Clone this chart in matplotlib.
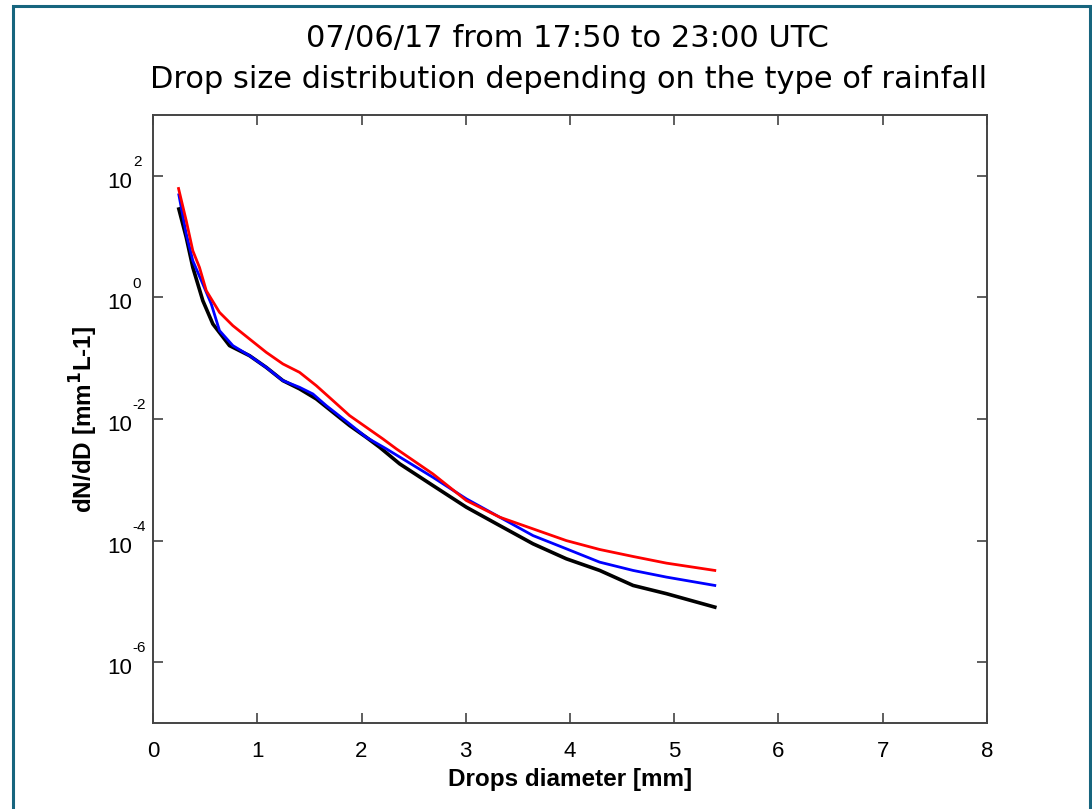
import matplotlib.pyplot as plt
import numpy as np
from matplotlib.patches import Rectangle
from matplotlib.transforms import ScaledTranslation

plt.rcParams['font.family'] = ['Liberation Sans', 'DejaVu Sans']

# drop diameter [mm]
diam_red = [0.245, 0.319, 0.382, 0.446, 0.511, 0.638, 0.766, 0.926, 1.086, 1.246,
            1.406, 1.566, 1.726, 1.886, 2.046, 2.205, 2.334, 2.685, 3.006, 3.325,
            3.645, 3.965, 4.285, 4.605, 4.925, 5.389]
dsd_red = [61.8, 18.2, 5.85, 3.11, 1.29, 0.567, 0.343, 0.207, 0.125, 0.0805,
           0.0585, 0.0354, 0.0201, 0.01137, 0.00731, 0.00471, 0.00323, 0.00125, 4.56e-4, 2.43e-4,
           1.56e-4, 1.00e-4, 7.14e-5, 5.48e-5, 4.26e-5, 3.23e-5]

diam_blue = [0.248, 0.319, 0.382, 0.478, 0.559, 0.638, 0.766, 0.926, 1.086, 1.246,
             1.406, 1.534, 1.662, 1.886, 2.046, 2.238, 2.685, 3.006, 3.325, 3.645,
             3.965, 4.285, 4.605, 4.925, 5.389]
dsd_blue = [48.7, 11.0, 4.01, 1.66, 0.779, 0.284, 0.161, 0.110, 0.0707, 0.0428,
            0.0332, 0.0258, 0.0166, 0.0083, 0.0050, 0.00323, 0.00110, 4.86e-4, 2.43e-4, 1.21e-4,
            7.33e-5, 4.42e-5, 3.23e-5, 2.51e-5, 1.83e-5]

diam_black = [0.248, 0.319, 0.382, 0.478, 0.574, 0.734, 0.926, 1.086, 1.246, 1.406,
              1.566, 1.726, 1.886, 2.046, 2.174, 2.366, 2.685, 3.006, 3.325, 3.645,
              3.965, 4.285, 4.605, 4.925, 5.389]
dsd_black = [28.4, 9.68, 3.11, 0.883, 0.366, 0.161, 0.110, 0.0707, 0.0428, 0.0313,
             0.0214, 0.0129, 0.0078, 0.0050, 0.00343, 0.00183, 8.05e-4, 3.54e-4, 1.77e-4, 8.86e-5,
             5.02e-5, 3.23e-5, 1.83e-5, 1.34e-5, 8.05e-6]

yticks = [1e-6, 1e-4, 1e-2, 1e0, 1e2]
xticks = [0, 1, 2, 3, 4, 5, 6, 7, 8]

fig = plt.figure(figsize=(10.92, 8.09), dpi=100)
ax = fig.add_axes([153 / 1092, 1 - 723 / 809, (987 - 153) / 1092, (723 - 115) / 809])

ax.plot(diam_black, dsd_black, color='black', lw=2.6)
ax.plot(diam_blue, dsd_blue, color='blue', lw=2.0)
ax.plot(diam_red, dsd_red, color='red', lw=2.0)

ax.set_yscale('log')
ax.set_xlim(0, 8)
ax.set_ylim(1e-7, 1e3)
ax.set_xticks(xticks)
ax.set_yticks(yticks)
ax.set_yticklabels(['10'] * len(yticks))
ax.minorticks_off()
ax.tick_params(which='both', direction='in', top=True, right=True, length=7, width=1.1,
               labelsize=16, color='#333333')
ax.tick_params(axis='y', pad=15)
ax.tick_params(axis='x', pad=13)
# shift "10" a little below its tick, as in the original
shift = ScaledTranslation(0, -4 / 100, fig.dpi_scale_trans)
for lab in ax.get_yticklabels():
    lab.set_transform(lab.get_transform() + shift)
for v in yticks:
    ax.annotate(str(int(np.log10(v))), xy=(0, v),
                xycoords=('axes fraction', 'data'), xytext=(-14.5, 10),
                textcoords='offset points', ha='left', va='center', fontsize=11)
for s in ax.spines.values():
    s.set_color('#444444')
    s.set_linewidth(1.4)

ax.set_xlabel('Drops diameter [mm]', fontsize=17.5, fontweight='bold', labelpad=4)
ax.set_ylabel('dN/dD [mm$^{\\mathbf{1}}$L-1]', fontsize=17.5, fontweight='bold', labelpad=5)
fig.text(0.520, 1 - 38 / 809, '07/06/17 from 17:50 to 23:00 UTC', ha='center', va='center',
         fontsize=22, family='DejaVu Sans')
fig.text(0.521, 1 - 80 / 809, 'Drop size distribution depending on the type of rainfall',
         ha='center', va='center', fontsize=22, family='DejaVu Sans')

# frame around the image
fig.patches.append(Rectangle((13 / 1092, -0.05), (1090 - 13) / 1092, 1 - 6 / 809 + 0.05,
                             transform=fig.transFigure, fill=False, edgecolor='#17657e', lw=2.2))

fig.savefig('out.png', dpi=100)
